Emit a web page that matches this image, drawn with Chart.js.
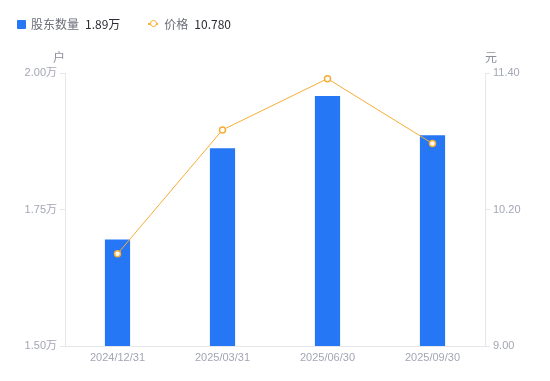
<!DOCTYPE html>
<html>
<head>
<meta charset="utf-8">
<script src="https://cdn.jsdelivr.net/npm/chart.js@4/dist/chart.umd.min.js"></script>
<style>
    html, body { margin: 0; padding: 0; background: #fff; }
    #wrap { position: relative; width: 550px; height: 381px; }
    #legend {
        position: absolute; left: 17px; top: 15px;
        font-family: "Noto Sans CJK SC", sans-serif; font-size: 12px;
        display: flex; align-items: center; line-height: 18px;
    }
    .item { display: flex; align-items: center; margin-right: 28px; }
    .sq { width: 9px; height: 9px; background: #2677f5; border-radius: 1px; margin-right: 5px; }
    .ln { position: relative; width: 10px; height: 2px; background: #f6ad35; margin-right: 6px; }
    .ln::after {
        content: ""; position: absolute; left: 1.5px; top: -3px; width: 5px; height: 5px;
        border: 1.5px solid #f6ad35; border-radius: 50%; background: #fff;
    }
    .name { color: #6b6e78; margin-right: 6px; }
    .val { color: #2b2d33; }
</style>
</head>
<body>
<div id="wrap">
    <canvas id="chart" width="550" height="381"></canvas>
    <div id="legend">
        <div class="item"><span class="sq"></span><span class="name">股东数量</span><span class="val">1.89万</span></div>
        <div class="item"><span class="ln"></span><span class="name">价格</span><span class="val">10.780</span></div>
    </div>
</div>
<script>
// 数据
const categories = ['2024/12/31', '2025/03/31', '2025/06/30', '2025/09/30'];
const holders = [1.695, 1.862, 1.958, 1.886]; // 万户
const prices = [9.81, 10.90, 11.35, 10.78];   // 元
const leftTicks = [1.50, 1.75, 2.00];
const rightTicks = [9.00, 10.20, 11.40];

const tickFont = { family: 'Arial, "Liberation Sans", "Noto Sans CJK SC", sans-serif', size: 11 };
const tickColor = '#a3a6b4';
const lineColor = '#e6e7eb';

// 轴标题（户 / 元）
const axisTitles = {
    id: 'axisTitles',
    afterDraw(chart) {
        const ctx = chart.ctx;
        const top = chart.chartArea.top;
        ctx.save();
        ctx.font = '12px "Noto Sans CJK SC", sans-serif';
        ctx.fillStyle = '#8c8f9c';
        ctx.textBaseline = 'middle';
        ctx.textAlign = 'center';
        ctx.fillText('户', chart.scales.y.right - 6, top - 16);
        ctx.fillText('元', chart.scales.y1.left + 6, top - 16);
        ctx.restore();
    }
};

new Chart(document.getElementById('chart').getContext('2d'), {
    type: 'bar',
    data: {
        labels: categories,
        datasets: [{
            type: 'line',
            label: '价格',
            data: prices,
            yAxisID: 'y1',
            borderColor: '#f6ad35',
            borderWidth: 1,
            tension: 0,
            pointRadius: 3,
            pointBorderWidth: 1.5,
            pointBackgroundColor: '#fff',
            pointBorderColor: '#f6ad35',
            order: 0
        }, {
            type: 'bar',
            label: '股东数量',
            data: holders,
            yAxisID: 'y',
            backgroundColor: '#2677f5',
            categoryPercentage: 1,
            barPercentage: 0.24,
            order: 1
        }]
    },
    options: {
        responsive: false,
        animation: false,
        layout: { padding: { top: 73, left: 0, right: 0, bottom: 0 } },
        plugins: { legend: { display: false }, tooltip: { enabled: false } },
        scales: {
            x: {
                grid: { display: false, drawTicks: false },
                border: { display: true, color: lineColor },
                ticks: { font: tickFont, color: tickColor, padding: 5, maxRotation: 0 },
                afterFit(s) { s.height = 35; }
            },
            y: {
                position: 'left',
                min: 1.5, max: 2.0,
                afterBuildTicks(s) { s.ticks = leftTicks.map(v => ({ value: v })); },
                grid: { drawOnChartArea: false, drawTicks: true, tickLength: 5, color: lineColor },
                border: { display: true, color: lineColor },
                ticks: { font: tickFont, color: tickColor, padding: 3, callback: v => v.toFixed(2) + '万' },
                afterFit(s) { s.width = 65; }
            },
            y1: {
                position: 'right',
                min: 9.0, max: 11.4,
                afterBuildTicks(s) { s.ticks = rightTicks.map(v => ({ value: v })); },
                grid: { drawOnChartArea: false, drawTicks: true, tickLength: 5, color: lineColor },
                border: { display: true, color: lineColor },
                ticks: { font: tickFont, color: tickColor, padding: 3, callback: v => v.toFixed(2) },
                afterFit(s) { s.width = 65; }
            }
        }
    },
    plugins: [axisTitles]
});
</script>
</body>
</html>
